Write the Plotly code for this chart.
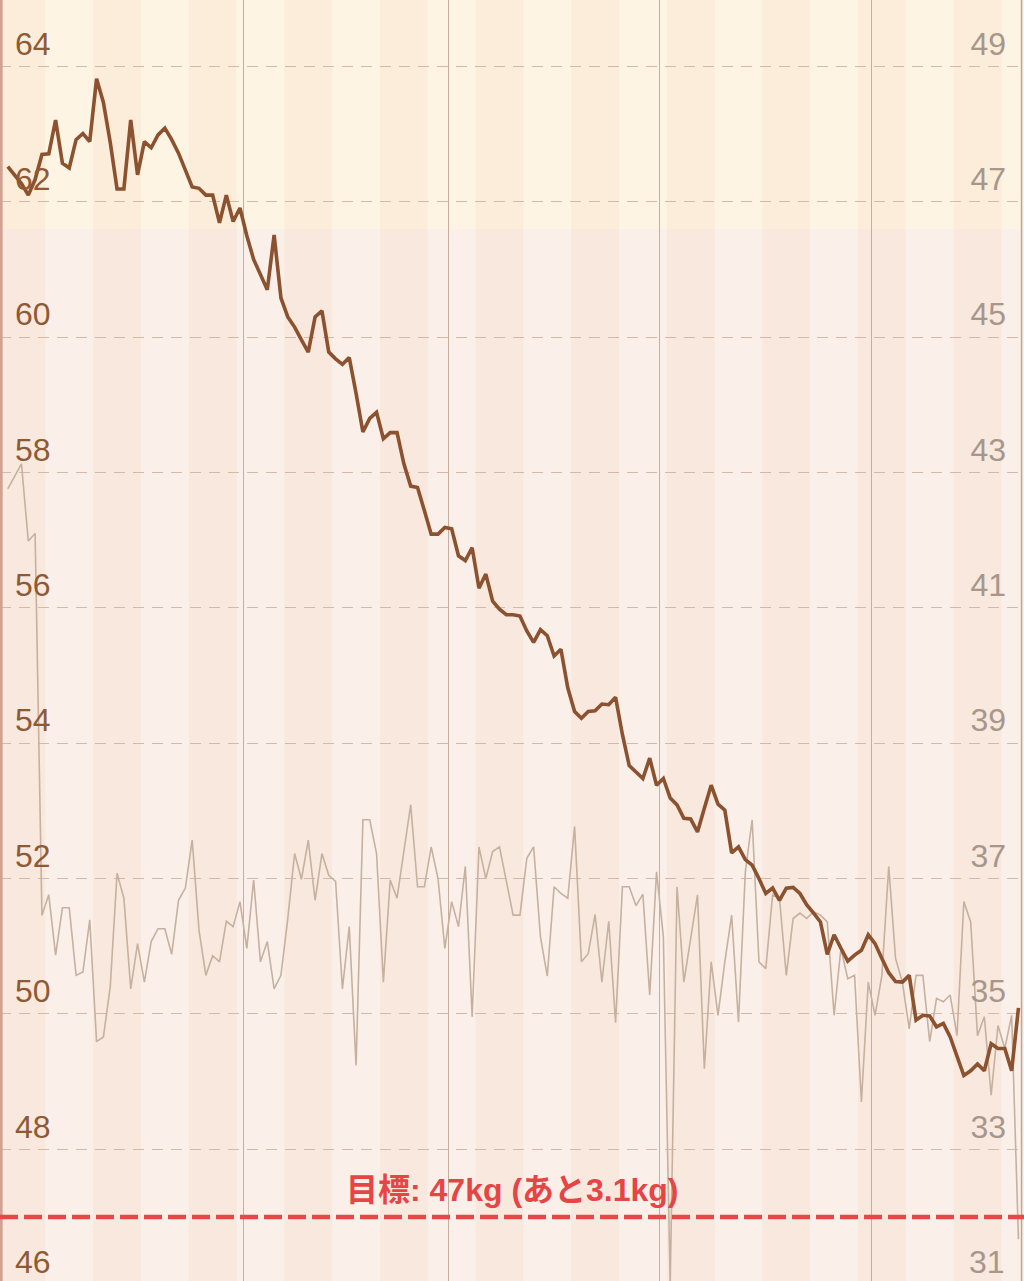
import plotly.graph_objects as go
import pandas as pd

# ---- data (daily readings) ----
dates = pd.date_range("2023-04-27 12:00", "2023-09-22 12:00", freq="D")

weight = [62.52, 62.40, 62.27, 62.10, 62.33, 62.70, 62.71, 63.21, 62.57, 62.50,
          62.92, 63.01, 62.89, 63.82, 63.47, 62.88, 62.19, 62.19, 63.21, 62.40,
          62.89, 62.80, 62.99, 63.09, 62.92, 62.72, 62.47, 62.22, 62.20, 62.10,
          62.10, 61.69, 62.10, 61.71, 61.91, 61.50, 61.15, 60.94, 60.70, 61.51,
          60.58, 60.30, 60.15, 59.96, 59.78, 60.30, 60.39, 59.78, 59.68, 59.60,
          59.70, 59.17, 58.60, 58.80, 58.89, 58.50, 58.59, 58.59, 58.13, 57.80,
          57.78, 57.44, 57.09, 57.09, 57.19, 57.17, 56.77, 56.70, 56.89, 56.29,
          56.50, 56.10, 55.98, 55.90, 55.90, 55.88, 55.66, 55.49, 55.68, 55.59,
          55.29, 55.39, 54.82, 54.47, 54.37, 54.47, 54.48, 54.58, 54.57, 54.68,
          54.13, 53.67, 53.57, 53.48, 53.78, 53.38, 53.48, 53.19, 53.09, 52.89,
          52.88, 52.69, 53.04, 53.38, 53.10, 53.01, 52.38, 52.47, 52.28, 52.20,
          52.00, 51.78, 51.86, 51.68, 51.86, 51.87, 51.78, 51.61, 51.49, 51.36,
          50.88, 51.17, 50.97, 50.78, 50.87, 50.94, 51.17, 51.04, 50.82, 50.61,
          50.48, 50.47, 50.57, 49.91, 49.98, 49.97, 49.81, 49.86, 49.66, 49.39,
          49.09, 49.16, 49.26, 49.16, 49.56, 49.49, 49.49, 49.16, 50.09]

body_fat = [42.76, 42.94, 43.13, 41.99, 42.10, 36.46, 36.76, 35.87, 36.57, 36.57,
            35.57, 35.62, 36.39, 34.59, 34.66, 35.40, 37.08, 36.71, 35.37, 36.04,
            35.47, 36.07, 36.26, 36.26, 35.88, 36.68, 36.86, 37.57, 36.24, 35.57,
            35.86, 35.77, 36.37, 36.29, 36.66, 35.97, 36.98, 35.77, 36.07, 35.37,
            35.57, 36.41, 37.37, 36.99, 37.57, 36.68, 37.37, 37.05, 36.96, 35.37,
            36.29, 34.24, 37.87, 37.87, 37.37, 35.47, 36.98, 36.71, 37.40, 38.09,
            36.88, 36.88, 37.47, 37.00, 35.97, 36.66, 36.29, 37.18, 34.96, 37.47,
            37.00, 37.40, 37.47, 36.98, 36.46, 36.46, 37.30, 37.47, 36.14, 35.56,
            36.88, 36.78, 36.71, 37.77, 35.77, 35.89, 36.47, 35.47, 36.37, 34.87,
            36.88, 36.88, 36.60, 36.77, 35.28, 37.10, 36.14, 31.00, 36.88, 35.47,
            36.11, 36.76, 34.19, 35.77, 34.98, 35.77, 36.46, 34.88, 37.10, 37.87,
            35.77, 35.67, 36.76, 36.71, 35.57, 36.41, 36.49, 36.41, 36.51, 36.46,
            36.36, 34.98, 35.97, 35.52, 35.57, 33.70, 35.47, 34.98, 35.57, 37.18,
            35.82, 35.47, 34.78, 35.57, 35.57, 34.59, 35.23, 35.18, 35.28, 34.68,
            36.66, 36.36, 34.68, 34.96, 33.80, 34.83, 34.49, 34.98, 31.67]

weight_ticks = [48, 50, 52, 54, 56, 58, 60, 62, 64]
fat_ticks = [33, 35, 37, 39, 41, 43, 45, 47, 49]
bottom_weight_label = "46"   # just below the visible range
bottom_fat_label = "31"
goal_weight = 47
upper_band_from = 61.6
goal_text = "目標: 47kg (あと3.1kg)"
shaded_weeks = pd.date_range("2023-04-26", "2023-09-20", freq="14D")

# ---- colours ----
LOW_LIGHT = "#FAF0E9"
LOW_DARK = "#F8E8DE"
TOP_LIGHT = "#FDF4E4"
TOP_DARK = "#FBEDD9"
LEFT_COL = "#8E5A36"
RIGHT_COL = "#A6978A"
W_RANGE = [46.054, 64.983]
F_RANGE = [W_RANGE[0] - 15, W_RANGE[1] - 15]

fig = go.Figure()
fig.add_trace(go.Scatter(x=dates, y=body_fat, yaxis="y", mode="lines",
                         line=dict(color="#C6B19F", width=1.6), name="体脂肪率"))
fig.add_trace(go.Scatter(x=dates, y=weight, yaxis="y2", mode="lines",
                         line=dict(color="#8C512E", width=3.6), name="体重"))

shapes = []
shapes.append(dict(type="rect", xref="paper", x0=0, x1=1, yref="y2",
                   y0=upper_band_from, y1=W_RANGE[1], fillcolor=TOP_LIGHT,
                   line=dict(width=0), layer="below"))
for ws in shaded_weeks:
    we = ws + pd.Timedelta(days=7)
    shapes.append(dict(type="rect", xref="x", x0=ws, x1=we, yref="y2",
                       y0=W_RANGE[0], y1=upper_band_from, fillcolor=LOW_DARK,
                       line=dict(width=0), layer="below"))
    shapes.append(dict(type="rect", xref="x", x0=ws, x1=we, yref="y2",
                       y0=upper_band_from, y1=W_RANGE[1], fillcolor=TOP_DARK,
                       line=dict(width=0), layer="below"))
# screen edges
shapes.append(dict(type="rect", xref="paper", x0=0, x1=0.0026, yref="paper", y0=0, y1=1,
                   fillcolor="#CFA292", line=dict(width=0), layer="above"))
shapes.append(dict(type="line", xref="paper", x0=0.9976, x1=0.9976, yref="paper", y0=0, y1=1,
                   line=dict(color="#BCA797", width=1.5), layer="above"))
# goal line
shapes.append(dict(type="line", xref="paper", x0=0, x1=1, yref="y2",
                   y0=goal_weight, y1=goal_weight,
                   line=dict(color="#E64848", width=4.5, dash="18px,6px"), layer="above"))

label_font_l = dict(family="Liberation Sans, Arial", size=32, color=LEFT_COL)
label_font_r = dict(family="Liberation Sans, Arial", size=32, color=RIGHT_COL)

fig.update_layout(
    width=1024, height=1281, autosize=False,
    margin=dict(l=0, r=0, t=0, b=0, pad=0),
    paper_bgcolor=LOW_LIGHT, plot_bgcolor=LOW_LIGHT,
    showlegend=False,
    shapes=shapes,
    xaxis=dict(range=["2023-04-26 08:36", "2023-09-23 07:26"],
               showgrid=True, gridcolor="#C7AD9D", gridwidth=1.2,
               tick0="2023-05-01", dtick="M1",
               showticklabels=False, ticks="", zeroline=False, showline=False),
    yaxis=dict(side="right", range=F_RANGE, tickvals=fat_ticks,
               ticklabelposition="inside", ticks="",
               ticklabelshift=-23, ticklabelstandoff=15,
               tickfont=label_font_r,
               showgrid=True, gridcolor="#D3B9A9", gridwidth=1.2, griddash="11px,8px",
               zeroline=False, showline=False),
    yaxis2=dict(side="left", overlaying="y", range=W_RANGE, tickvals=weight_ticks,
                ticklabelposition="inside", ticks="",
                ticklabelshift=-23, ticklabelstandoff=12,
                tickfont=label_font_l,
                showgrid=False, zeroline=False, showline=False),
    annotations=[
        dict(text=goal_text, xref="paper", x=0.5, yref="y2", y=goal_weight,
             yanchor="bottom", yshift=7, showarrow=False,
             font=dict(family="Liberation Sans, Noto Sans CJK JP", size=32,
                       color="#E64545", weight="bold")),
        dict(text=bottom_weight_label, xref="paper", x=0, xanchor="left", xshift=13,
             yref="paper", y=0, yanchor="middle", yshift=19, showarrow=False,
             font=label_font_l),
        dict(text=bottom_fat_label, xref="paper", x=1, xanchor="right", xshift=-17,
             yref="paper", y=0, yanchor="middle", yshift=19, showarrow=False,
             font=label_font_r),
    ],
)

fig.write_html("out.html",
               config={"displayModeBar": False},
               post_script="document.body.style.margin='0';document.body.style.padding='0';"
                           "document.body.style.overflow='hidden';")
